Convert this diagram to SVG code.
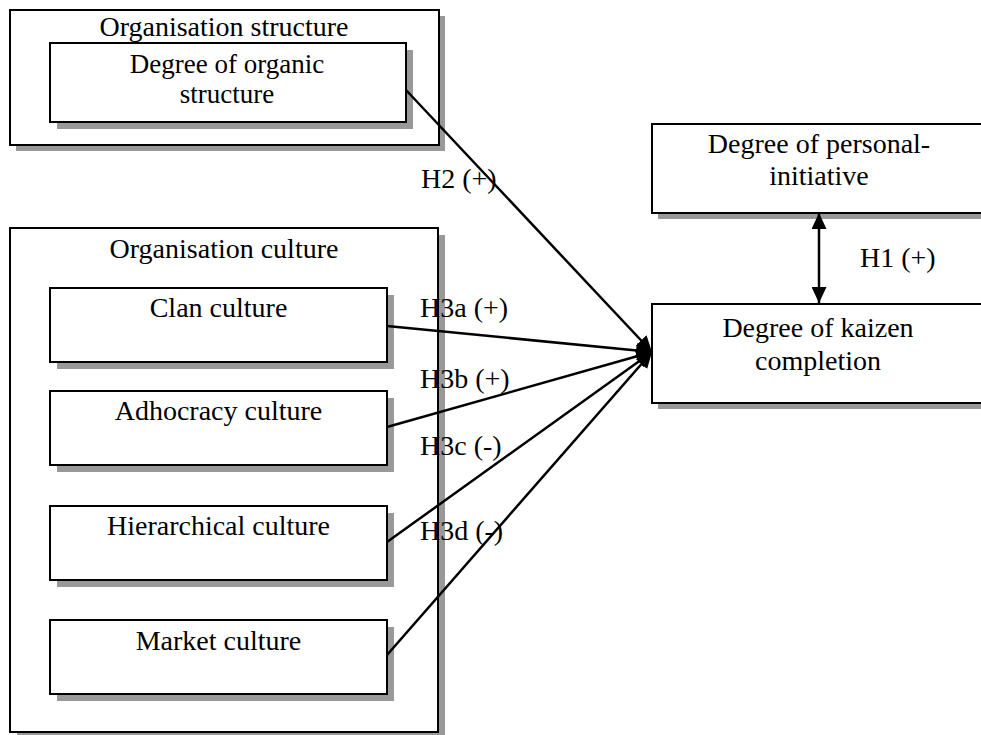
<svg xmlns="http://www.w3.org/2000/svg" width="981" height="735" viewBox="0 0 981 735">
  <defs>
    <style>
      .box { fill: #ffffff; stroke: #000000; stroke-width: 2; }
      .shadow { fill: #999999; stroke: none; }
      .lbl { font-family: "Liberation Serif", "Times New Roman", serif; font-size: 28px; fill: #000000; }
      .tight { font-size: 27px; }
      .mid { text-anchor: middle; }
      .conn { stroke: #000000; stroke-width: 2.5; fill: none; }
    </style>
    <marker id="head" viewBox="0 0 16 15" refX="16" refY="7.5" markerWidth="16" markerHeight="15" markerUnits="userSpaceOnUse" orient="auto-start-reverse">
      <path d="M0,0 L16,7.5 L0,15 z" fill="#000000"/>
    </marker>
  </defs>

  <rect width="981" height="735" fill="#ffffff"/>

  <!-- Organisation structure group -->
  <g id="org-structure">
    <rect class="shadow" x="16" y="16" width="429" height="135"/>
    <rect class="box" x="10" y="10" width="429" height="135"/>
    <text class="lbl mid" x="224" y="36">Organisation structure</text>
  </g>
  <g id="organic-structure">
    <rect class="shadow" x="57" y="50" width="356" height="79"/>
    <rect class="box" x="50" y="43" width="356" height="79"/>
    <text class="lbl tight mid" x="227" y="73">Degree of organic</text>
    <text class="lbl tight mid" x="227" y="103">structure</text>
  </g>

  <!-- Organisation culture group -->
  <g id="org-culture">
    <rect class="shadow" x="17" y="235" width="428" height="504"/>
    <rect class="box" x="10" y="228" width="428" height="504"/>
    <text class="lbl mid" x="224" y="258">Organisation culture</text>
  </g>
  <g id="clan">
    <rect class="shadow" x="57" y="295" width="337" height="74"/>
    <rect class="box" x="50" y="288" width="337" height="74"/>
    <text class="lbl mid" x="218.5" y="317">Clan culture</text>
  </g>
  <g id="adhocracy">
    <rect class="shadow" x="57" y="398" width="337" height="74"/>
    <rect class="box" x="50" y="391" width="337" height="74"/>
    <text class="lbl mid" x="218.5" y="420">Adhocracy culture</text>
  </g>
  <g id="hierarchical">
    <rect class="shadow" x="57" y="513" width="337" height="74"/>
    <rect class="box" x="50" y="506" width="337" height="74"/>
    <text class="lbl mid" x="218.5" y="535">Hierarchical culture</text>
  </g>
  <g id="market">
    <rect class="shadow" x="57" y="627" width="337" height="74"/>
    <rect class="box" x="50" y="620" width="337" height="74"/>
    <text class="lbl mid" x="218.5" y="650">Market culture</text>
  </g>

  <!-- Outcome side -->
  <g id="personal-initiative">
    <rect class="shadow" x="658" y="130" width="336" height="89"/>
    <rect class="box" x="652" y="124" width="336" height="89"/>
    <text class="lbl mid" x="819" y="153">Degree of personal-</text>
    <text class="lbl mid" x="819" y="185">initiative</text>
  </g>
  <g id="kaizen">
    <rect class="shadow" x="658" y="310" width="336" height="99"/>
    <rect class="box" x="652" y="304" width="336" height="99"/>
    <text class="lbl mid" x="818" y="337">Degree of kaizen</text>
    <text class="lbl mid" x="818" y="370">completion</text>
  </g>

  <!-- Hypothesis connectors -->
  <g id="connectors">
    <line class="conn" x1="406" y1="90" x2="652" y2="352" marker-end="url(#head)"/>
    <line class="conn" x1="387" y1="326" x2="652" y2="352" marker-end="url(#head)"/>
    <line class="conn" x1="387" y1="427" x2="652" y2="352" marker-end="url(#head)"/>
    <line class="conn" x1="387" y1="542" x2="652" y2="352" marker-end="url(#head)"/>
    <line class="conn" x1="387" y1="655" x2="652" y2="352" marker-end="url(#head)"/>
    <line class="conn" x1="819" y1="213" x2="819" y2="303" marker-start="url(#head)" marker-end="url(#head)"/>
  </g>

  <!-- Hypothesis labels -->
  <g id="labels">
    <text class="lbl" x="421" y="188">H2 (+)</text>
    <text class="lbl" x="420" y="317">H3a (+)</text>
    <text class="lbl" x="420" y="388">H3b (+)</text>
    <text class="lbl" x="420" y="455">H3c (-)</text>
    <text class="lbl" x="420" y="540">H3d (-)</text>
    <text class="lbl" x="860" y="267">H1 (+)</text>
  </g>
</svg>
